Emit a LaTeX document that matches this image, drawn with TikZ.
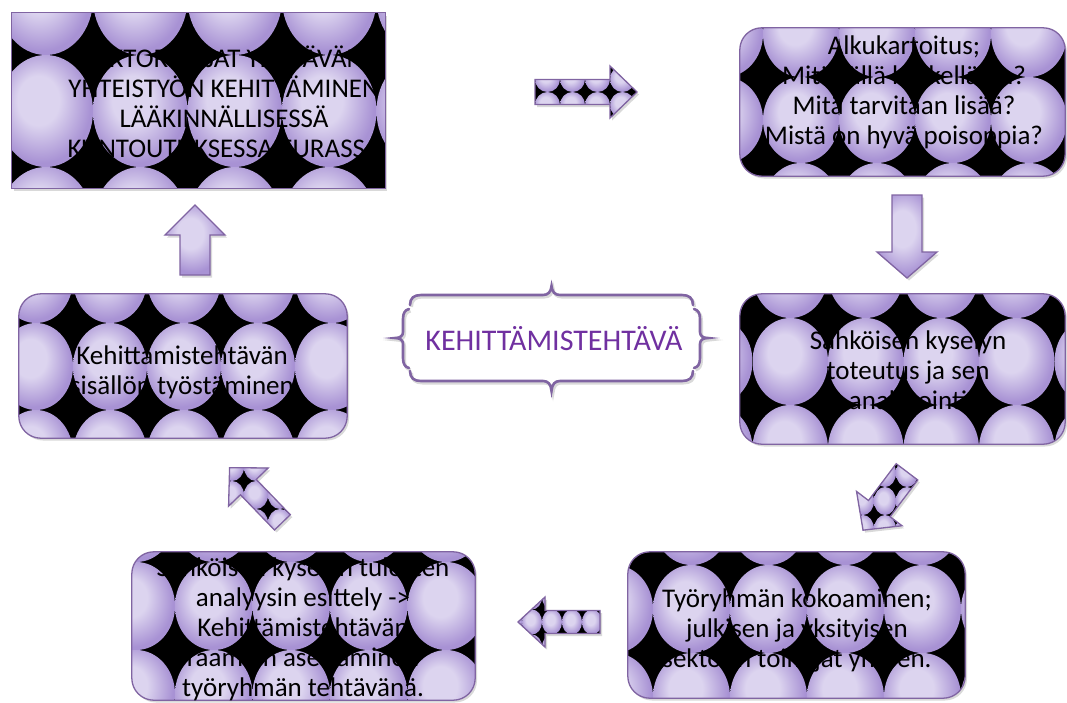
\documentclass[tikz,border=0pt]{standalone}
\usepackage{fontspec}
\setmainfont{Carlito}
\usetikzlibrary{shadows}

\definecolor{bubl}{RGB}{220,212,239}
\definecolor{bubd}{RGB}{168,146,212}
\definecolor{frameline}{RGB}{128,100,162}
\definecolor{titletext}{RGB}{112,48,160}
\pgfdeclareradialshading{bubble}{\pgfpoint{-5bp}{6bp}}{color(0bp)=(bubl); color(11bp)=(bubl); color(26bp)=(bubd); color(50bp)=(bubd)}

% grid of shaded bubbles: corner, tile width, tile height, columns, rows
\newcommand\bubbles[5]{%
  \begin{scope}[shift={(#1)}]
    \foreach \i in {0,...,#4}
      \foreach \j in {0,...,#5}
        \shade[shading=bubble] (\i*#2+#2/2,\j*#3+#3/2) ellipse [x radius=#2/2, y radius=#3/2];
  \end{scope}}

% block arrow along local x: length, head width, shaft width, head length
\newcommand\arrowpath[4]{(-#1/2,-#3/2) -- (#1/2-#4,-#3/2) -- (#1/2-#4,-#2/2) -- (#1/2,0) -- (#1/2-#4,#2/2) -- (#1/2-#4,#3/2) -- (-#1/2,#3/2) -- cycle}

\tikzset{
  boxline/.style={draw=frameline, line width=1.3pt},
  dropsh/.style={drop shadow={opacity=0.3, shadow xshift=2pt, shadow yshift=-2.5pt}},
  box/.style={fill=black, dropsh, inner sep=0pt},
  txt/.style={align=center, inner sep=0pt, font=\fontsize{27}{30}\selectfont},
}

\begin{document}
\begin{tikzpicture}[x=1pt,y=-1pt]
\useasboundingbox (0,0) rectangle (1067,702);

% boxes
\node[box, minimum width=373pt, minimum height=175pt] (b1) at (198.5,100.5) {};
\node[box, rounded corners=22pt, minimum width=325pt, minimum height=148pt] (b2) at (902.5,102) {};
\node[box, rounded corners=22pt, minimum width=325pt, minimum height=150pt] (b3) at (902.5,369) {};
\node[box, rounded corners=22pt, minimum width=337pt, minimum height=146pt] (b4) at (796.5,625) {};
\node[box, rounded corners=22pt, minimum width=343pt, minimum height=148pt] (b5) at (303.5,626) {};
\node[box, rounded corners=22pt, minimum width=328pt, minimum height=144pt] (b6) at (183,366) {};

\begin{scope}
  \clip (b1.north west) rectangle (b1.south east);
  \bubbles{-1.5,-57}{94.5}{112}{4}{2}
\end{scope}
\begin{scope}
  \clip[rounded corners=22pt] (b2.north west) rectangle (b2.south east);
  \bubbles{611,-9}{76}{86}{6}{2}
\end{scope}
\begin{scope}
  \clip[rounded corners=22pt] (b3.north west) rectangle (b3.south east);
  \bubbles{677,231}{75.5}{87}{5}{2}
\end{scope}
\begin{scope}
  \clip[rounded corners=22pt] (b4.north west) rectangle (b4.south east);
  \bubbles{576,477}{77}{88}{5}{2}
\end{scope}
\begin{scope}
  \clip[rounded corners=22pt] (b5.north west) rectangle (b5.south east);
  \bubbles{97.5,474}{77.5}{88}{5}{2}
\end{scope}
\begin{scope}
  \clip[rounded corners=22pt] (b6.north west) rectangle (b6.south east);
  \bubbles{-1,236}{74}{87}{4}{2}
\end{scope}

\draw[boxline] (b1.north west) rectangle (b1.south east);
\draw[boxline, rounded corners=22pt] (b2.north west) rectangle (b2.south east);
\draw[boxline, rounded corners=22pt] (b3.north west) rectangle (b3.south east);
\draw[boxline, rounded corners=22pt] (b4.north west) rectangle (b4.south east);
\draw[boxline, rounded corners=22pt] (b5.north west) rectangle (b5.south east);
\draw[boxline, rounded corners=22pt] (b6.north west) rectangle (b6.south east);

\node[txt] (t1) at (224,102) {SEKTORIRAJAT YLITTÄVÄN\\YHTEISTYÖN KEHITTÄMINEN\\LÄÄKINNÄLLISESSÄ\\KUNTOUTUKSESSA EURASSA};
\node[txt] (t2) at (904,92) {Alkukartoitus;\\Mitä tällä hetkellä on?\\Mitä tarvitaan lisää?\\Mistä on hyvä poisoppia?};
\node[txt] (t3) at (908,372) {Sähköisen kyselyn\\toteutus ja sen\\analysointi};
\node[txt] (t4) at (797,630) {Työryhmän kokoaminen;\\julkisen ja yksityisen\\sektorin toimijat yhteen.};
\node[txt] (t5) at (303,629) {Sähköisen kyselyn tulosten\\analyysin esittely ->\\Kehittämistehtävän\\raamien asettaminen\\työryhmän tehtävänä.};
\node[txt] (t6) at (182,372) {Kehittamistehtävän\\sisällön työstäminen};

% arrows
\begin{scope}[shift={(586,92)}]
  \path[box] \arrowpath{102}{52}{25}{27};
  \begin{scope}
    \clip \arrowpath{102}{52}{25}{27};
    \bubbles{-76,-26}{25}{26}{5}{1}
  \end{scope}
  \draw[boxline] \arrowpath{102}{52}{25}{27};
\end{scope}
\begin{scope}[shift={(907,236.5)}, rotate=-90]
  \shade[dropsh, shading=bubble] \arrowpath{83}{60}{30}{26};
  \draw[boxline] \arrowpath{83}{60}{30}{26};
\end{scope}
\begin{scope}[shift={(885,501)}, rotate=-127]
  \path[box] \arrowpath{73}{57}{27}{27};
  \begin{scope}
    \clip \arrowpath{73}{57}{27}{27};
    \begin{scope}[rotate=127]
      \bubbles{-55,-70}{22}{28}{4}{4}
    \end{scope}
  \end{scope}
  \draw[boxline] \arrowpath{73}{57}{27}{27};
\end{scope}
\begin{scope}[shift={(559,622)}, rotate=180]
  \path[box] \arrowpath{82}{50}{23}{27};
  \begin{scope}
    \clip \arrowpath{82}{50}{23}{27};
    \bubbles{-43,-37.5}{20}{25}{4}{2}
  \end{scope}
  \draw[boxline] \arrowpath{82}{50}{23}{27};
\end{scope}
\begin{scope}[shift={(256,495)}, rotate=134]
  \path[box] \arrowpath{76}{55}{22}{27};
  \begin{scope}
    \clip \arrowpath{76}{55}{22}{27};
    \begin{scope}[rotate=-134]
      \bubbles{-60,-70}{24}{28}{4}{4}
    \end{scope}
  \end{scope}
  \draw[boxline] \arrowpath{76}{55}{22}{27};
\end{scope}
\begin{scope}[shift={(195,240)}, rotate=90]
  \shade[dropsh, shading=bubble] \arrowpath{70}{60}{30}{30};
  \draw[boxline] \arrowpath{70}{60}{30}{30};
\end{scope}

% centre frame
\draw[frameline, line width=2.6pt, line cap=round,
      preaction={draw=black!15, line width=3pt, transform canvas={xshift=1.5pt,yshift=-2pt}}]
  (410,305) .. controls (410,298) and (414,295) .. (421,295) -- (543,295)
    .. controls (548,295) and (551,292) .. (551.5,286) .. controls (552,292) and (555,295) .. (560,295)
    -- (682,295) .. controls (689,295) and (693,298) .. (693,305)
  (410,371) .. controls (410,378) and (414,381) .. (421,381) -- (543,381)
    .. controls (548,381) and (551,384) .. (551.5,391) .. controls (552,384) and (555,381) .. (560,381)
    -- (682,381) .. controls (689,381) and (693,378) .. (693,371)
  (409,309) .. controls (405,310) and (403,313) .. (403,319) -- (403,332)
    .. controls (403,336) and (400,338) .. (395,338) .. controls (400,338) and (403,340) .. (403,344)
    -- (403,358) .. controls (403,364) and (405,367) .. (409,368)
  (694,309) .. controls (698,310) and (700,313) .. (700,319) -- (700,332)
    .. controls (700,336) and (703,338) .. (708,338) .. controls (703,338) and (700,340) .. (700,344)
    -- (700,358) .. controls (700,364) and (698,367) .. (694,368);
\node[text=titletext, font=\fontsize{30}{34}\selectfont, inner sep=0pt] (ctr) at (554,339) {KEHITTÄMISTEHTÄVÄ};

\end{tikzpicture}
\end{document}
